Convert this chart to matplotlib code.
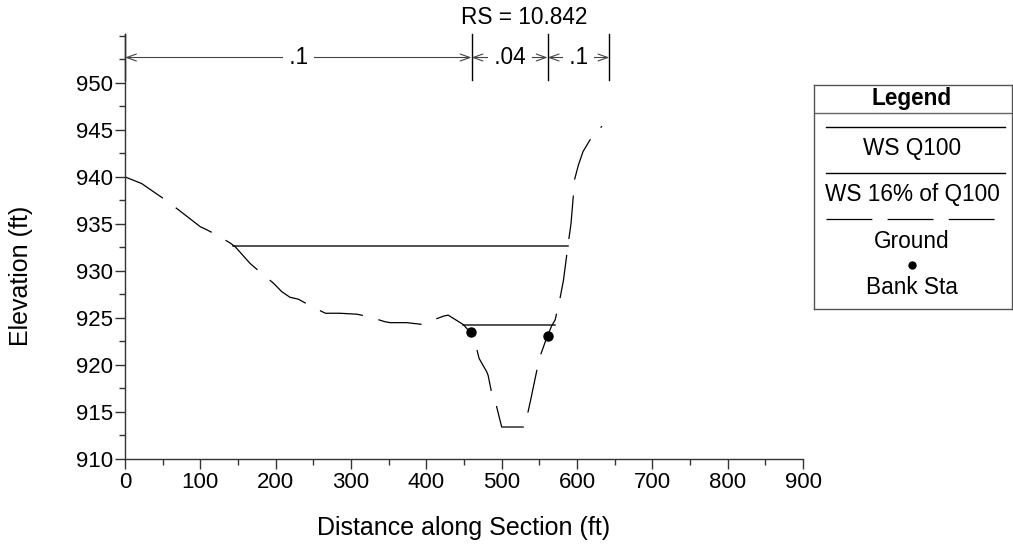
import matplotlib
matplotlib.use("Agg")
import matplotlib.pyplot as plt
from matplotlib.ticker import MultipleLocator

plt.rcParams['font.family'] = ['Liberation Sans', 'DejaVu Sans']
plt.rcParams['lines.scale_dashes'] = False

# ground profile (station ft, elevation ft)
ground_x = [0, 22, 51, 71, 100, 108, 120, 139, 146, 166, 182, 197, 208, 219, 230,
            246, 266, 285, 308, 325, 345, 352, 374, 396, 403, 423, 429, 449, 458,
            465, 470, 480, 482, 486, 491, 496, 500, 531, 533, 538, 550, 558, 566,
            571, 577, 582, 589, 592, 597, 602, 608, 617, 626, 630, 633]
ground_y = [940.0, 939.3, 937.7, 936.5, 934.7, 934.4, 933.9, 933.0, 932.6, 930.8,
            929.7, 928.7, 927.8, 927.2, 927.0, 926.3, 925.5, 925.5, 925.4, 925.1,
            924.6, 924.5, 924.5, 924.3, 924.6, 925.2, 925.3, 924.3, 923.5, 922.3,
            920.7, 919.3, 918.9, 917.3, 916.3, 914.7, 913.4, 913.4, 914.3, 916.1,
            920.7, 922.5, 924.1, 924.8, 926.9, 929.0, 933.3, 935.0, 939.8, 941.3,
            942.7, 943.9, 945.0, 945.1, 945.4]

# water surfaces
ws_q100_x = [144, 588]
ws_q100_y = [932.7, 932.7]
ws_16_x = [449, 571]
ws_16_y = [924.3, 924.3]

# bank stations
bank_x = [459, 561]
bank_y = [923.5, 923.1]

# manning's n regions
n_breaks = [0, 460, 561, 643]
n_values = ['.1', '.04', '.1']

dash = (0, (31.5, 11.5))
fs = 16.3

fig = plt.figure(figsize=(10.13, 5.52), dpi=100)
ax = fig.add_axes([0.1234, 0.1685, 0.6693, 0.7699])

ax.plot(ws_q100_x, ws_q100_y, color='#222222', lw=1.1)
ax.plot(ws_16_x, ws_16_y, color='#222222', lw=1.1)
ax.plot(ground_x, ground_y, color='black', lw=0.9, linestyle=dash)
ax.plot(bank_x, bank_y, 'o', color='black', markersize=6.5)

# n-value bars and arrows
for xb in n_breaks:
    ax.plot([xb, xb], [950.3, 955.2], color='black', lw=1.0, clip_on=False)
for i in range(len(n_values)):
    x0, x1 = n_breaks[i], n_breaks[i + 1]
    ax.annotate('', xy=(x1, 952.7), xytext=(x0, 952.7),
                arrowprops=dict(arrowstyle='<->,head_length=0.7,head_width=0.25',
                                color='#444444', lw=0.8, shrinkA=0, shrinkB=0))
    ax.text((x0 + x1) / 2, 952.7, ' ' + n_values[i] + ' ', ha='center', va='center',
            fontsize=fs, bbox=dict(facecolor='white', edgecolor='none', pad=0))

ax.set_xlim(0, 900)
ax.set_ylim(910, 955.2)
ax.xaxis.set_major_locator(MultipleLocator(100))
ax.xaxis.set_minor_locator(MultipleLocator(50))
ax.yaxis.set_minor_locator(MultipleLocator(2.5))
ax.set_yticks([910, 915, 920, 925, 930, 935, 940, 945, 950])
ax.spines['top'].set_visible(False)
ax.spines['right'].set_visible(False)
for s in ['left', 'bottom']:
    ax.spines[s].set_color('#333333')
    ax.spines[s].set_linewidth(1.0)
ax.tick_params(which='major', length=7, width=1.0, color='#333333', labelsize=16)
ax.tick_params(which='minor', length=4, width=1.0, color='#333333')
ax.tick_params(axis='x', which='major', pad=2.5)
ax.tick_params(axis='y', which='major', pad=1.5)

ax.set_xlabel('Distance along Section (ft)', fontsize=18)
ax.xaxis.set_label_coords(0.5, -0.135)
ax.set_ylabel('Elevation (ft)', fontsize=18)
ax.yaxis.set_label_coords(-0.136, 0.43)

fig.text(524 / 1013, 1 - 18 / 552, 'RS = 10.842', ha='center', va='center', fontsize=fs)

# legend box (pixel coordinates)
lg = fig.add_axes([814 / 1013, 1 - 309 / 552, 197.5 / 1013, 224 / 552])
lg.set_xlim(814, 1011.5)
lg.set_ylim(309, 85)
lg.set_xticks([])
lg.set_yticks([])
for s in lg.spines.values():
    s.set_color('#555555')
    s.set_linewidth(1.0)
lg.text(912, 99, 'Legend', ha='center', va='center', fontsize=fs, fontweight='bold')
lg.plot([814, 1011.5], [113.3, 113.3], color='#666666', lw=1.0)
lg.plot([826, 1005], [127.3, 127.3], color='black', lw=1.0)
lg.text(912, 149, 'WS Q100', ha='center', va='center', fontsize=fs)
lg.plot([826, 1005], [173.3, 173.3], color='black', lw=1.0)
lg.text(912, 195, 'WS 16% of Q100', ha='center', va='center', fontsize=fs)
lg.plot([826, 1005], [219.3, 219.3], color='black', lw=0.9, linestyle=(0, (33, 11)))
lg.text(912, 241, 'Ground', ha='center', va='center', fontsize=fs)
lg.plot([912], [265], 'o', color='black', markersize=5)
lg.text(912, 288, 'Bank Sta', ha='center', va='center', fontsize=fs)

fig.savefig('out.png', dpi=100)
plt.close(fig)
